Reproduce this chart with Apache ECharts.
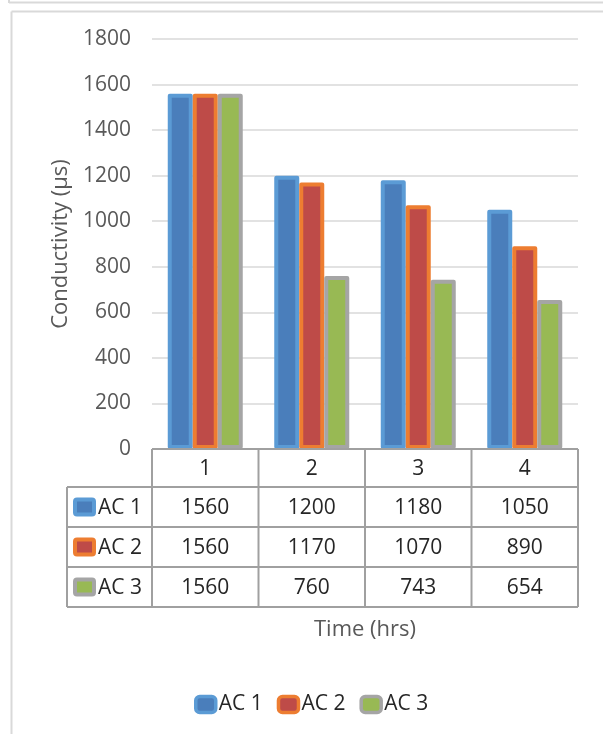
<!DOCTYPE html>
<html>
<head>
<meta charset="utf-8">
<script src="https://cdn.jsdelivr.net/npm/echarts@6/dist/echarts.min.js"></script>
<style>
html,body{margin:0;padding:0;background:#fff;}
#c{width:603px;height:734px;}
</style>
</head>
<body>
<div id="c"></div>
<script>
const categories = ['1', '2', '3', '4'];
const seriesNames = ['AC 1', 'AC 2', 'AC 3'];
const ac1 = [1560, 1200, 1180, 1050];
const ac2 = [1560, 1170, 1070, 890];
const ac3 = [1560, 760, 743, 654];
const yMin = 0, yMax = 1800, yStep = 200;
const yTitle = 'Conductivity (µs)';
const xTitle = 'Time (hrs)';

const seriesData = [ac1, ac2, ac3];
const fills = ['#4A7EBB', '#BE4B48', '#98B954'];
const borders = ['#5B9BD5', '#ED7D31', '#A5A5A5'];
const FONT = 'Open Sans';
const textGray = '#595959';
const tableText = '#262626';
const tableLine = '#A0A0A0';

const chart = echarts.init(document.getElementById('c'), null, {renderer: 'canvas'});

const gridLeft = 152, gridRight = 25, gridTop = 39, gridBottom = 285;

chart.setOption({
  backgroundColor: '#ffffff',
  animation: false,
  textStyle: {fontFamily: FONT},
  grid: {left: gridLeft, right: gridRight, top: gridTop, bottom: gridBottom, containLabel: false},
  legend: {
    data: seriesNames,
    left: 189, top: 689,
    itemWidth: 20, itemHeight: 16, itemGap: 14,
    icon: 'roundRect',
    itemStyle: {borderWidth: 3.5},
    textStyle: {fontFamily: FONT, fontSize: 21, color: tableText, padding: [0, 0, 0, -2]}
  },
  xAxis: {
    type: 'category',
    data: categories,
    axisLine: {show: false},
    axisTick: {show: false},
    axisLabel: {show: false},
    name: xTitle,
    nameLocation: 'middle',
    nameGap: 170,
    nameTextStyle: {fontFamily: FONT, fontSize: 22, color: textGray}
  },
  yAxis: {
    type: 'value',
    min: yMin, max: yMax, interval: yStep,
    axisLine: {show: false},
    axisTick: {show: false},
    axisLabel: {fontFamily: FONT, fontSize: 21, color: textGray, margin: 21, formatter: v => String(v)},
    splitLine: {lineStyle: {color: '#D9D9D9', width: 1.5}},
    name: yTitle,
    nameLocation: 'middle',
    nameGap: 74,
    nameRotate: 90,
    nameTextStyle: {fontFamily: FONT, fontSize: 22, color: textGray}
  },
  series: seriesNames.map((n, i) => ({
    name: n,
    type: 'bar',
    data: seriesData[i],
    barWidth: 25,
    barGap: '0%',
    itemStyle: {color: fills[i], borderColor: borders[i], borderWidth: 4, borderJoin: 'round'}
  }))
});

// Build data table from the same arrays, positioned with the axis scale
function buildTable() {
  const centers = categories.map(c => chart.convertToPixel({xAxisIndex: 0}, c));
  const band = centers.length > 1 ? centers[1] - centers[0] : 100;
  const colEdges = [centers[0] - band / 2].concat(centers.map(c => c + band / 2));
  const yZero = chart.convertToPixel({yAxisIndex: 0}, 0);
  const headerTop = yZero;
  const headerBottom = headerTop + 38;
  const rowH = 40;
  const rowTops = seriesNames.map((_, i) => headerBottom + i * rowH);
  const tableBottom = headerBottom + seriesNames.length * rowH;
  const legendLeft = 67;
  const g = [];
  const line = (x1, y1, x2, y2) => g.push({
    type: 'line', shape: {x1, y1, x2, y2}, z: 50,
    style: {stroke: tableLine, lineWidth: 2}
  });
  line(colEdges[0], headerTop, colEdges[colEdges.length - 1], headerTop);
  line(legendLeft, headerBottom, colEdges[colEdges.length - 1], headerBottom);
  rowTops.forEach((t, i) => line(legendLeft, t + rowH, colEdges[colEdges.length - 1], t + rowH));
  colEdges.forEach(x => line(x, headerTop, x, tableBottom));
  line(legendLeft, headerBottom, legendLeft, tableBottom);
  categories.forEach((c, i) => g.push({
    type: 'text', z: 51,
    style: {text: c, x: centers[i], y: (headerTop + headerBottom) / 2 + 1, align: 'center', verticalAlign: 'middle',
      font: '21px "' + FONT + '"', fill: tableText}
  }));
  seriesNames.forEach((n, r) => {
    const cy = rowTops[r] + rowH / 2;
    g.push({
      type: 'rect', z: 51,
      shape: {x: legendLeft + 8, y: cy - 7.5, width: 19, height: 15, r: 2},
      style: {fill: fills[r], stroke: borders[r], lineWidth: 4}
    });
    g.push({
      type: 'text', z: 51,
      style: {text: n, x: legendLeft + 31, y: cy + 1, align: 'left', verticalAlign: 'middle',
        font: '21px "' + FONT + '"', fill: tableText}
    });
    seriesData[r].forEach((v, i) => g.push({
      type: 'text', z: 51,
      style: {text: String(v), x: centers[i], y: cy + 1, align: 'center', verticalAlign: 'middle',
        font: '21px "' + FONT + '"', fill: tableText}
    }));
  });
  g.push({type: 'line', shape: {x1: 9, y1: 2.5, x2: 603, y2: 2.5}, style: {stroke: '#D9D9D9', lineWidth: 2}});
  g.push({type: 'line', shape: {x1: 9, y1: 0, x2: 9, y2: 3}, style: {stroke: '#D9D9D9', lineWidth: 2}});
  g.push({type: 'line', shape: {x1: 11.5, y1: 11.5, x2: 603, y2: 11.5}, style: {stroke: '#D9D9D9', lineWidth: 2}});
  g.push({type: 'line', shape: {x1: 11.5, y1: 11.5, x2: 11.5, y2: 734}, style: {stroke: '#D9D9D9', lineWidth: 2}});
  chart.setOption({graphic: g});
}
buildTable();
</script>
</body>
</html>
